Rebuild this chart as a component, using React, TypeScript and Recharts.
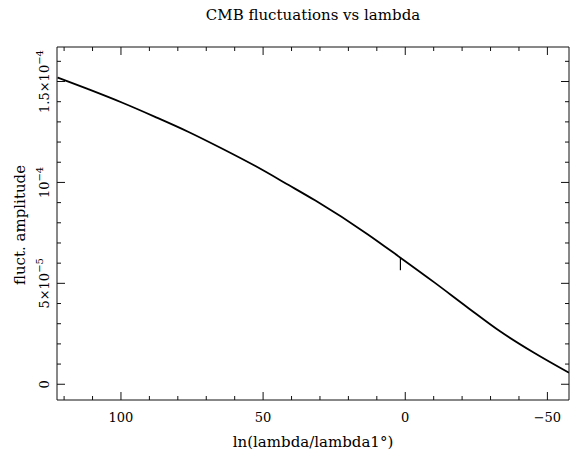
import { Label, Line, LineChart, ReferenceLine, XAxis, YAxis } from 'recharts';

// ln(lambda/lambda1°) vs fluctuation amplitude
const lnLambda = [122.3, 111.5, 99.7, 88.0, 76.2, 64.5, 52.7, 41.0, 31.6, 13.4, 1.7, -10.1, -21.8, -33.6, -45.3, -57.6];
const amplitude = [
  15.2e-5, 14.62e-5, 13.96e-5, 13.25e-5, 12.5e-5, 11.68e-5, 10.81e-5, 9.87e-5, 9.1e-5,
  7.45e-5, 6.27e-5, 5.06e-5, 3.82e-5, 2.6e-5, 1.56e-5, 0.57e-5,
];

// small vertical marker below the curve
const markerX = 1.7;
const markerY = [5.65e-5, 6.27e-5];

const xTicks = [120, 110, 100, 90, 80, 70, 60, 50, 40, 30, 20, 10, 0, -10, -20, -30, -40, -50];
const yTicks = [
  0, 1e-5, 2e-5, 3e-5, 4e-5, 5e-5, 6e-5, 7e-5, 8e-5, 9e-5, 10e-5, 11e-5, 12e-5, 13e-5, 14e-5, 15e-5, 16e-5,
];
const xDomain = [-57.6, 122.5];
const yDomain = [-0.78e-5, 16.71e-5];

const daten = lnLambda.map((x, i) => ({ x, y: amplitude[i] }));

const FONT = '"DejaVu Serif", serif';
const INK = '#111';

const isMajorX = (v: number) => v % 50 === 0;
const isMajorY = (v: number) => Math.abs(v / 5e-5 - Math.round(v / 5e-5)) < 1e-6;

function yLabel(v: number) {
  if (Math.abs(v) < 1e-12) return { base: '0', exp: '' };
  if (Math.abs(v - 5e-5) < 1e-9) return { base: '5×10', exp: '−5' };
  if (Math.abs(v - 10e-5) < 1e-9) return { base: '10', exp: '−4' };
  return { base: '1.5×10', exp: '−4' };
}

function BottomTick({ x, y, payload }: any) {
  const v = payload.value as number;
  const major = isMajorX(v);
  return (
    <g>
      <line x1={x} x2={x} y1={y} y2={y - (major ? 8 : 4)} stroke={INK} strokeWidth={1} />
      {major && (
        <text x={x} y={y + 22} textAnchor="middle" fontFamily={FONT} fontSize={13} fill="#000">
          {v < 0 ? `−${Math.abs(v)}` : v}
        </text>
      )}
    </g>
  );
}

function TopTick({ x, y, payload }: any) {
  const major = isMajorX(payload.value);
  return <line x1={x} x2={x} y1={y} y2={y + (major ? 8 : 4)} stroke={INK} strokeWidth={1} />;
}

function LeftTick({ x, y, payload }: any) {
  const v = payload.value as number;
  const major = isMajorY(v);
  const { base, exp } = yLabel(v);
  const tx = x - 8;
  return (
    <g>
      <line x1={x} x2={x + (major ? 8 : 4)} y1={y} y2={y} stroke={INK} strokeWidth={1} />
      {major && (
        <text
          x={tx}
          y={y}
          transform={`rotate(-90 ${tx} ${y})`}
          textAnchor="middle"
          fontFamily={FONT}
          fontSize={13}
          fill="#000"
        >
          {base}
          {exp && (
            <tspan dy={-6} fontSize={10}>
              {exp}
            </tspan>
          )}
        </text>
      )}
    </g>
  );
}

function RightTick({ x, y, payload }: any) {
  const major = isMajorY(payload.value);
  return <line x1={x} x2={x - (major ? 8 : 4)} y1={y} y2={y} stroke={INK} strokeWidth={1} />;
}

export default function App() {
  return (
    <div style={{ position: 'absolute', left: 0, top: 0 }}>
      <LineChart width={579} height={462} data={daten} margin={{ top: 46, right: 9, bottom: 0, left: 0 }}>
        <XAxis
          dataKey="x"
          type="number"
          domain={xDomain}
          reversed
          ticks={xTicks}
          interval={0}
          tickSize={0}
          tickMargin={0}
          tickLine={false}
          tick={<BottomTick />}
          height={62}
          axisLine={{ stroke: INK }}
          allowDataOverflow
        >
          <Label
            content={() => (
              <text x={313} y={447} textAnchor="middle" fontFamily={FONT} fontSize={15} fill="#000">
                ln(lambda/lambda1°)
              </text>
            )}
          />
        </XAxis>
        <XAxis
          xAxisId="top"
          orientation="top"
          dataKey="x"
          type="number"
          domain={xDomain}
          reversed
          ticks={xTicks}
          interval={0}
          tickSize={0}
          tickMargin={0}
          tickLine={false}
          tick={<TopTick />}
          height={1}
          axisLine={{ stroke: INK }}
          allowDataOverflow
        >
          <Label
            content={() => (
              <text x={313} y={20} textAnchor="middle" fontFamily={FONT} fontSize={15} fill="#000">
                CMB fluctuations vs lambda
              </text>
            )}
          />
        </XAxis>
        <YAxis
          type="number"
          domain={yDomain}
          ticks={yTicks}
          interval={0}
          tickSize={0}
          tickMargin={0}
          tickLine={false}
          tick={<LeftTick />}
          width={57}
          axisLine={{ stroke: INK }}
          allowDataOverflow
        >
          <Label
            content={() => (
              <text
                x={25}
                y={225}
                transform="rotate(-90 25 225)"
                textAnchor="middle"
                fontFamily={FONT}
                fontSize={15}
                fill="#000"
              >
                fluct. amplitude
              </text>
            )}
          />
        </YAxis>
        <YAxis
          yAxisId="right"
          orientation="right"
          type="number"
          domain={yDomain}
          ticks={yTicks}
          interval={0}
          tickSize={0}
          tickMargin={0}
          tickLine={false}
          tick={<RightTick />}
          width={1}
          axisLine={{ stroke: INK }}
          allowDataOverflow
        />
        <Line
          type="monotone"
          dataKey="y"
          stroke="#000"
          strokeWidth={1.8}
          dot={false}
          isAnimationActive={false}
        />
        <ReferenceLine
          segment={[
            { x: markerX, y: markerY[0] },
            { x: markerX, y: markerY[1] },
          ]}
          stroke="#000"
          strokeWidth={1.2}
        />
      </LineChart>
    </div>
  );
}
